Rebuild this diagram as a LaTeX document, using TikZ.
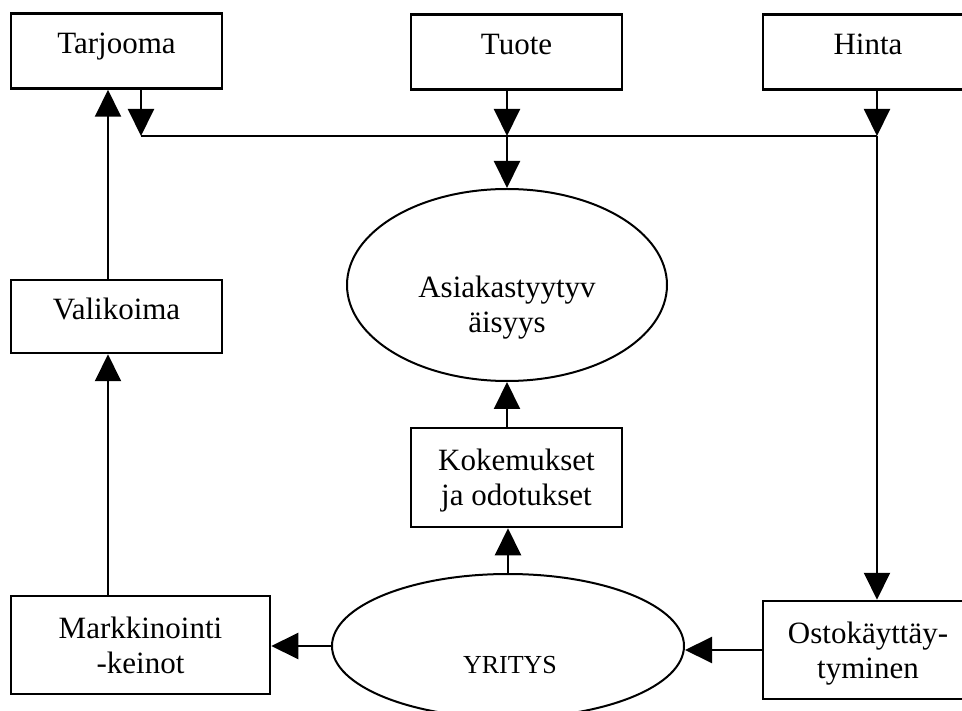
\documentclass[tikz,border=0pt]{standalone}
\usepackage{fontspec}
\setmainfont{Liberation Serif}
\usetikzlibrary{arrows.meta, shapes.geometric}

\begin{document}
\begin{tikzpicture}[
  x=1pt, y=-1pt,
  >={Triangle[length=27pt, width=26pt]},
  box/.style={draw, line width=2.5pt, minimum width=211pt, minimum height=75pt,
    font=\fontsize{31}{35}\selectfont, align=center, inner sep=0pt,
    text height=21pt, text depth=15pt},
  twobox/.style={box, text height=, text depth=0pt},
  ell/.style={draw, ellipse, line width=2pt, inner sep=0pt},
  lbl/.style={font=\fontsize{31}{35}\selectfont, align=center},
  arr/.style={->, line width=2pt},
  ln/.style={line width=2pt},
]

% Frame of the page
\useasboundingbox (0,0) rectangle (962,711);

% === Top row ===
\node[box] (tarjooma) at (116.5,51) {Tarjooma};
\node[box] (tuote) at (516.5,52) {Tuote};
\node[box, minimum width=210pt] (hinta) at (868,52) {Hinta};

% === Left column ===
\node[box, minimum height=73pt] (valikoima) at (116.5,316.5) {Valikoima};
\node[twobox, minimum width=259pt, minimum height=98pt] (markk) at (140.5,645)
  {Markkinointi\\-keinot};

% === Middle column ===
\node[ell, minimum width=320pt, minimum height=192pt] (asiakas) at (507,285) {};
\node[lbl] (asiakasText) at (507,308) {Asiakastyytyv\\äisyys};
\node[twobox, minimum height=99pt] (kokemukset) at (516.5,477.5)
  {Kokemukset\\ja odotukset};
\node[ell, minimum width=352pt, minimum height=144pt] (yritys) at (508,646) {};
\node[font=\fontsize{26}{30}\selectfont] (yritysText) at (510,665) {YRITYS};

% === Right column ===
\node[twobox, minimum width=210pt, minimum height=98pt] (ostok) at (868,650)
  {Ostokäyttäy-\\tyminen};

% Helper points
\coordinate (busstart) at (141,136);
\coordinate (busend) at (877,136);
\coordinate (leftcol) at (108,0);

% Arrows into the bus line
\draw[arr] (tarjooma.south -| busstart) -- (busstart);
\draw[arr] (tuote.south -| asiakas) -- (busstart -| asiakas);
\draw[arr] (hinta.south -| busend) -- (busend);
\draw[ln] (busstart) -- (busend);

% Bus -> satisfaction, bus -> buying behaviour
\draw[arr] (busstart -| asiakas) -- (asiakas.north);
\draw[arr] (busend) -- (ostok.north -| busend);

% Left column upwards
\draw[arr] (markk.north -| leftcol) -- (valikoima.south -| leftcol);
\draw[arr] (valikoima.north -| leftcol) -- (tarjooma.south -| leftcol);

% Middle column upwards
\draw[arr] (yritys.north) -- (kokemukset.south -| yritys);
\draw[arr] (kokemukset.north -| asiakas) -- (asiakas.south);

% Bottom row
\draw[arr] (yritys.west) -- (yritys.west -| markk.east);
\draw[arr] (ostok.west) -- (ostok.west -| yritys.east);

\end{tikzpicture}
\end{document}
